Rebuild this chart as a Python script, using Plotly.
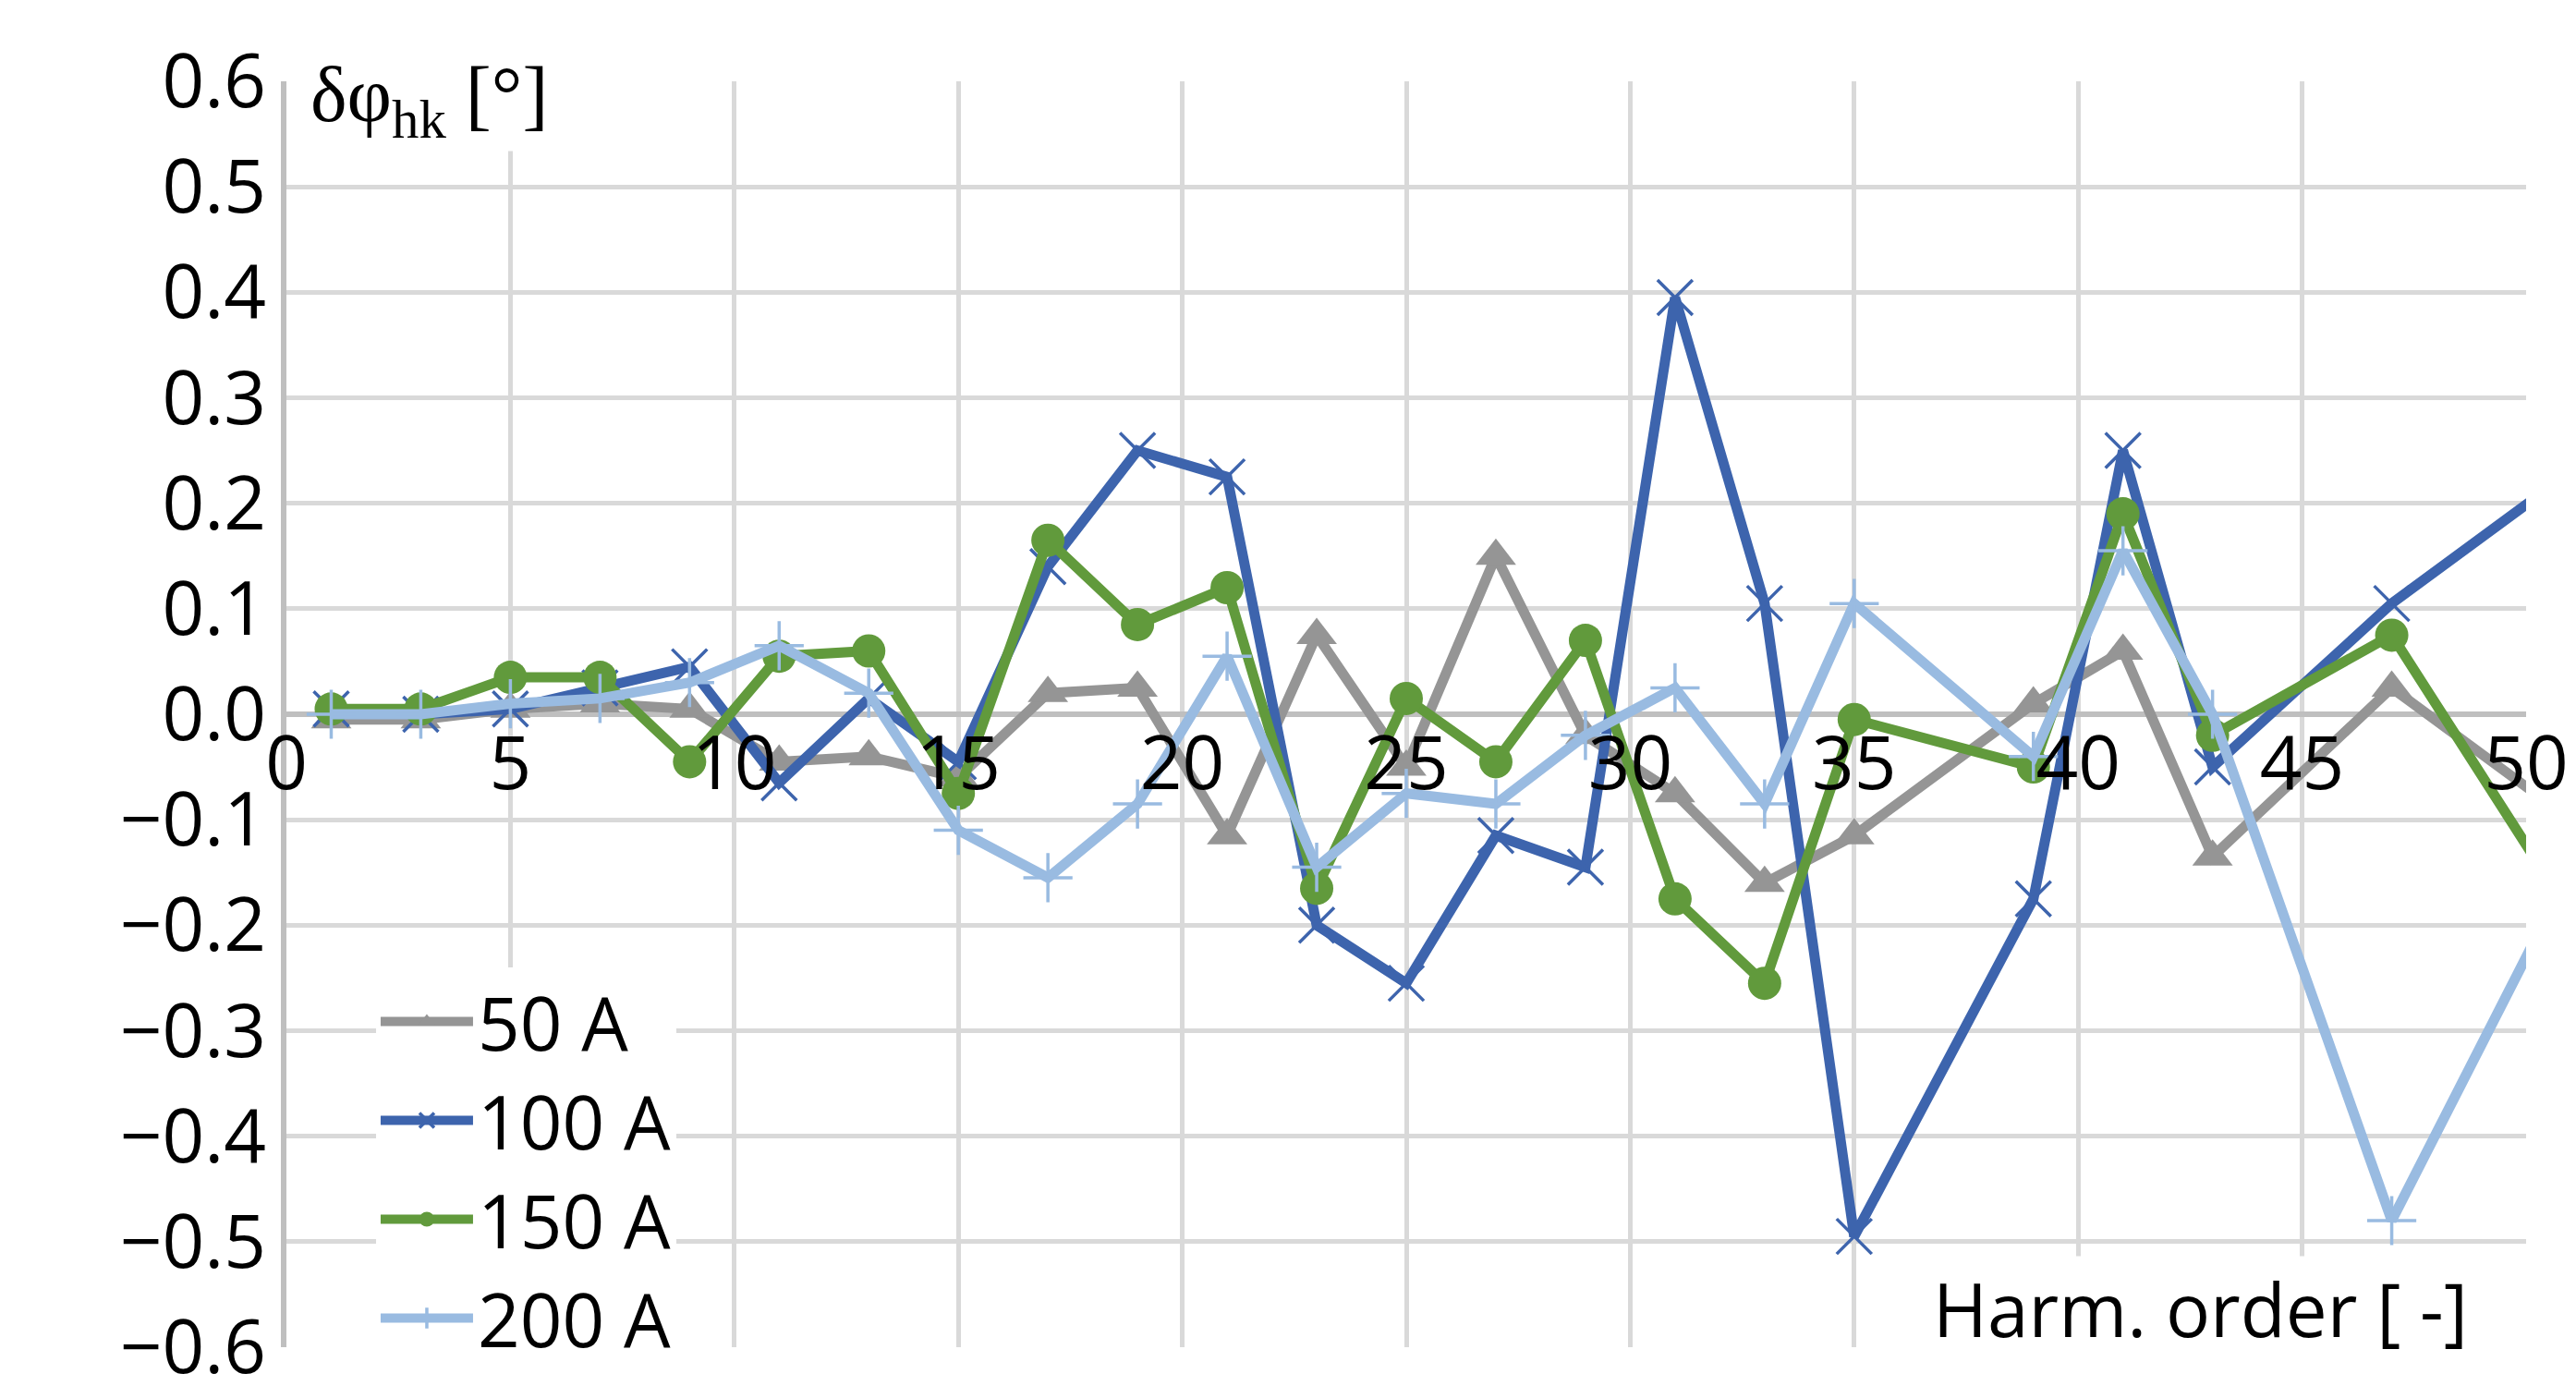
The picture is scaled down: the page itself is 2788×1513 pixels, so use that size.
import plotly.graph_objects as go

harm = [1, 3, 5, 7, 9, 11, 13, 15, 17, 19, 21, 23, 25, 27, 29, 31, 33, 35, 39, 41, 43, 47, 51]
a50 = [-0.005, -0.005, 0.005, 0.01, 0.005, -0.045, -0.04, -0.06, 0.02, 0.025, -0.115, 0.075,
       -0.05, 0.15, -0.02, -0.075, -0.16, -0.115, 0.01, 0.06, -0.135, 0.025, -0.1]
a100 = [0.005, 0.0, 0.005, 0.025, 0.045, -0.065, 0.015, -0.045, 0.14, 0.25, 0.225, -0.2,
        -0.255, -0.115, -0.145, 0.395, 0.105, -0.495, -0.175, 0.25, -0.05, 0.105, 0.23]
a150 = [0.005, 0.005, 0.035, 0.035, -0.045, 0.055, 0.06, -0.075, 0.165, 0.085, 0.12, -0.165,
        0.015, -0.045, 0.07, -0.175, -0.255, -0.005, -0.05, 0.19, -0.02, 0.075, -0.19]
a200 = [0.0, 0.0, 0.01, 0.015, 0.03, 0.065, 0.02, -0.11, -0.155, -0.085, 0.055, -0.145,
        -0.075, -0.085, -0.02, 0.025, -0.085, 0.105, -0.04, 0.155, 0.0, -0.48, -0.147]

fnt = "Open Sans, Noto Sans, sans-serif"
series = [
    ("50 A", a50, "#959595", dict(symbol="triangle-up", size=38)),
    ("100 A", a100, "#3d64ad", dict(symbol="x-thin", size=38, line=dict(width=3.5, color="#3d64ad"))),
    ("150 A", a150, "#619a3c", dict(symbol="circle", size=36)),
    ("200 A", a200, "#99bbe1", dict(symbol="cross-thin", size=38, line=dict(width=3.5, color="#99bbe1"))),
]

fig = go.Figure()
for name, vals, col, mk in series:
    fig.add_trace(go.Scatter(x=harm, y=vals, name=name, mode="lines+markers",
                             line=dict(color=col, width=11), marker=dict(color=col, **mk),
                             cliponaxis=True))

fig.update_layout(
    width=2788, height=1513, plot_bgcolor="white", paper_bgcolor="white",
    margin=dict(l=302, r=62, t=80, b=55),
    font=dict(family=fnt, size=80, color="black"),
    showlegend=True,
    legend=dict(x=0.04, y=0.30, xanchor="left", yanchor="top", bgcolor="white",
                font=dict(size=80), tracegroupgap=0, itemwidth=100, itemsizing="trace"),
    xaxis=dict(range=[0, 50], dtick=5, showgrid=True, gridcolor="#d9d9d9", gridwidth=5,
               zeroline=False, showline=False, anchor="free", position=0.5,
               ticks="", tickfont=dict(size=80)),
    yaxis=dict(range=[-0.6, 0.6], dtick=0.1, tickformat=".1f", showgrid=True,
               gridcolor="#d9d9d9", gridwidth=5, zeroline=True, zerolinecolor="#bfbfbf",
               zerolinewidth=6, showline=True, linecolor="#bfbfbf", linewidth=6,
               mirror=False, ticks="", tickfont=dict(size=80)),
    annotations=[
        dict(text="δφ<sub>hk</sub> [°]", xref="paper", yref="paper", x=0.01, y=1.025,
             xanchor="left", yanchor="top", showarrow=False, bgcolor="white",
             font=dict(family="Liberation Serif, serif", size=84)),
        dict(text="Harm. order [ -]", xref="paper", yref="paper", x=0.975, y=-0.01,
             xanchor="right", yanchor="bottom", showarrow=False, bgcolor="white",
             font=dict(size=80)),
    ],
)
fig.write_html("out.html")
